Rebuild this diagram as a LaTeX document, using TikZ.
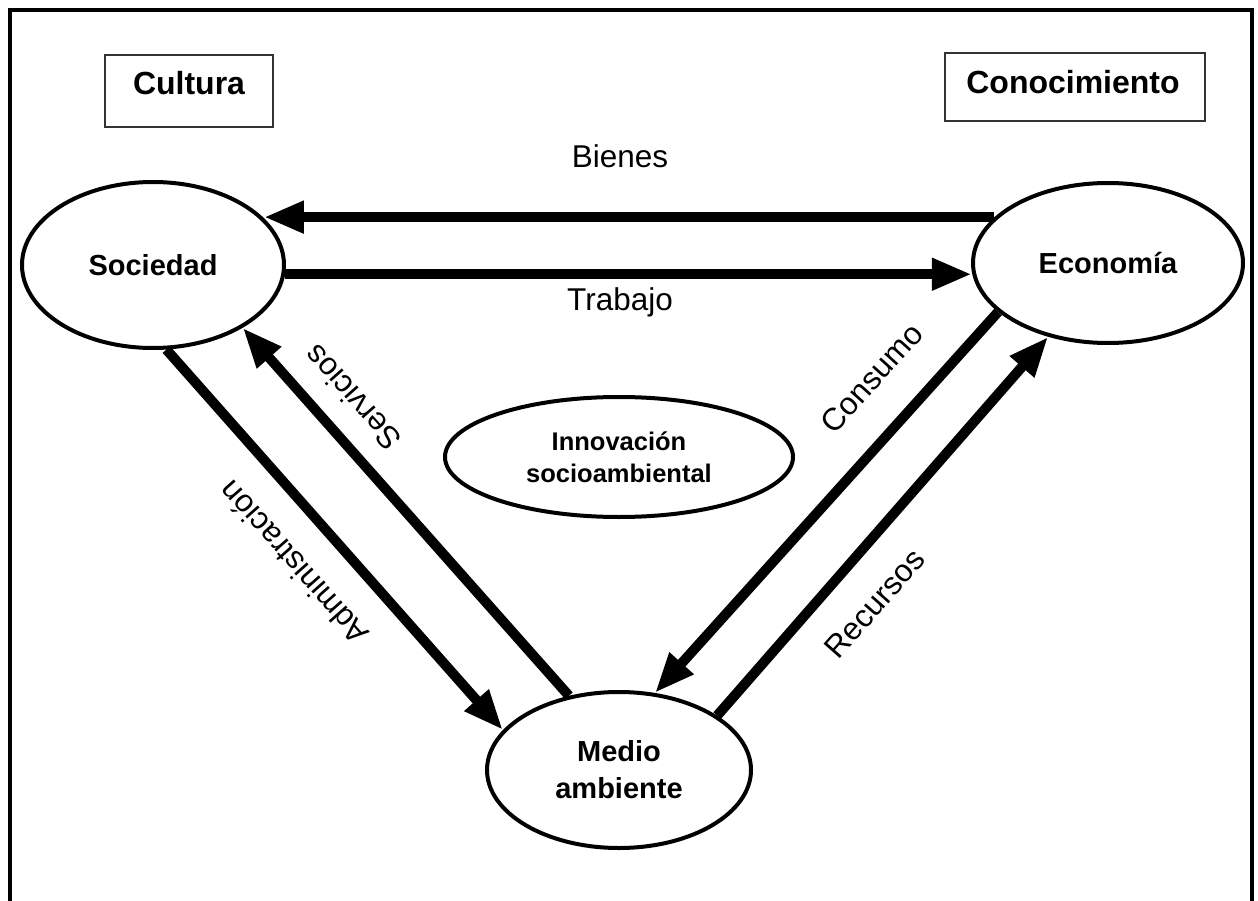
\documentclass[tikz,border=0pt]{standalone}
\usepackage{fontspec}
\setmainfont{Liberation Sans}
\usetikzlibrary{shapes.geometric,arrows.meta}

\begin{document}
\begin{tikzpicture}[x=1pt,y=-1pt,
  frame/.style={line width=4pt},
  tagbox/.style={draw=black!80,line width=1.5pt,rectangle,inner sep=0pt},
  tagtext/.style={font=\bfseries\fontsize{32}{38}\selectfont,inner sep=0pt},
  sector/.style={draw,ellipse,line width=4pt,inner sep=0pt,align=center,
    font=\bfseries\fontsize{29}{37}\selectfont},
  flow/.style={line width=10pt,-{Triangle[length=40pt,width=30pt]}},
  flowlab/.style={font=\fontsize{31.5}{38}\selectfont,inner sep=0pt,
    text height=0.72em,text depth=0pt}
]
\clip (0,0) rectangle (1258,901);
\fill[white] (0,0) rectangle (1258,901);

% outer frame (open at the bottom edge of the page)
\draw[frame] (10,940) -- (10,10) -- (1252,10) -- (1252,940);

% corner tags
\node[tagbox,minimum width=168pt,minimum height=72pt] (cultura) at (189,91) {};
\node[tagtext] (culturatxt) at (189,83) {Cultura};
\node[tagbox,minimum width=260pt,minimum height=68pt] (conoc) at (1075,87) {};
\node[tagtext] (conoctxt) at (1073,82) {Conocimiento};

% the three sectors and the centre
\node[sector,minimum width=262pt,minimum height=166pt] (soc) at (153,265) {Sociedad};
\node[sector,minimum width=270pt,minimum height=160pt] (econ) at (1108,263) {Economía};
\node[sector,minimum width=264pt,minimum height=156pt] (medio) at (619,770) {Medio\\ambiente};
\node[sector,minimum width=348pt,minimum height=120pt,
  font=\bfseries\fontsize{25.5}{32}\selectfont] (innov) at (619,457) {Innovación\\socioambiental};

% flows between sectors
\draw[flow] (econ.158.1) -- (soc.23.5 |- econ.158.1);
\draw[flow] (soc.356.5) -- (econ.184.3 |- soc.356.5);
\draw[flow] (soc.279) -- (medio.161.3);
\draw[flow] (medio.124.2) -- (soc.325.3);
\draw[flow] (econ.204.8) -- (medio.65);
\draw[flow] (medio.29.2) -- (econ.231.1);

% flow labels
\node[flowlab] (bienes) at (620,164) {Bienes};
\node[flowlab] (trabajo) at (620,307) {Trabajo};
\node[flowlab,rotate=131.5] (servicios) at (358,393) {Servicios};
\node[flowlab,rotate=131.5] (admin) at (299,558) {Administración};
\node[flowlab,rotate=47.8] (consumo) at (877,383) {Consumo};
\node[flowlab,rotate=48.5] (recursos) at (880,608) {Recursos};
\end{tikzpicture}
\end{document}
